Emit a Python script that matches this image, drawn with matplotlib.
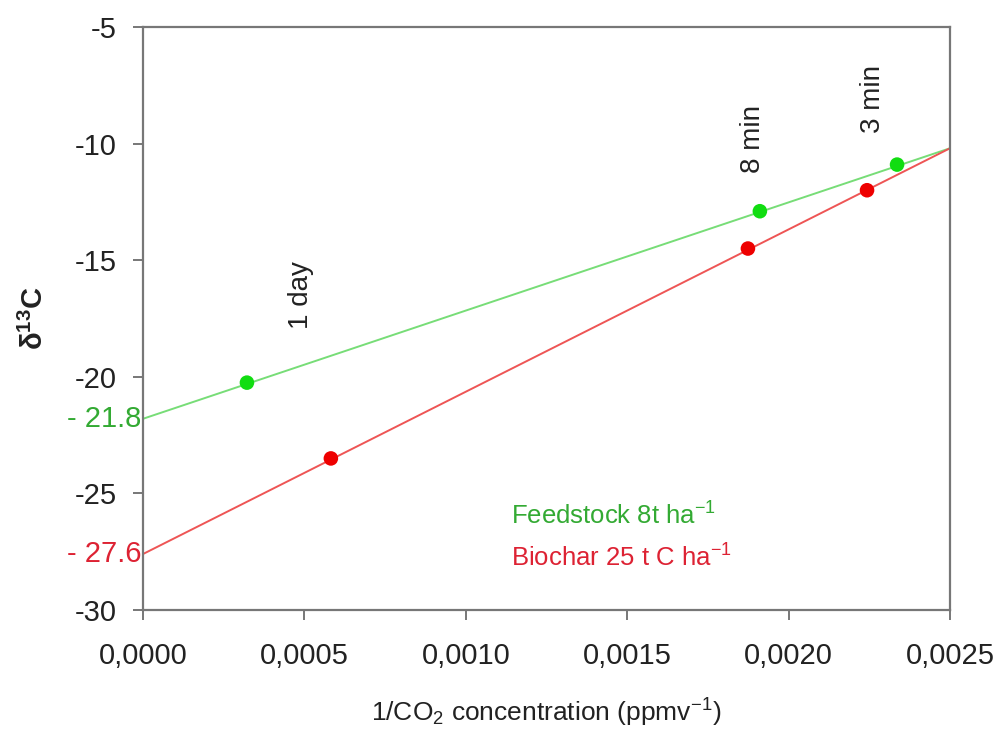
import numpy as np
import matplotlib
matplotlib.use('Agg')
import matplotlib.pyplot as plt
from matplotlib.ticker import FuncFormatter

plt.rcParams['font.family'] = ['Liberation Sans', 'DejaVu Sans']
plt.rcParams['mathtext.fontset'] = 'custom'
plt.rcParams['mathtext.rm'] = 'Liberation Sans'
plt.rcParams['mathtext.it'] = 'Liberation Sans:italic'
plt.rcParams['mathtext.bf'] = 'Liberation Sans:bold'

# --- data ---
inv_co2_feed = [0.000322, 0.001911, 0.002336]
d13c_feed = [-20.25, -12.9, -10.9]
inv_co2_bio = [0.000582, 0.001874, 0.002243]
d13c_bio = [-23.5, -14.5, -12.0]

# fitted mixing lines (intercept at 1/CO2 = 0, value at x = 0.0025)
intercept_feed, end_feed = -21.8, -10.2
intercept_bio, end_bio = -27.6, -10.2
line_x = [0.0, 0.0025]

time_labels = ['1 day', '8 min', '3 min']
time_label_pos = [(0.00049, -16.5), (0.00189, -9.8), (0.00226, -8.1)]

green_pt, green_ln, green_tx = '#11dd11', '#77dd77', '#33aa33'
red_pt, red_ln, red_tx = '#ee0000', '#ee5555', '#dd2233'
axis_col = '#777777'

fig = plt.figure(figsize=(10.02, 7.31), dpi=100)
ax = fig.add_axes([143 / 1002, 1 - 610 / 731, 807 / 1002, 583 / 731])

ax.plot(line_x, [intercept_feed, end_feed], color=green_ln, lw=1.4, zorder=2)
ax.plot(line_x, [intercept_bio, end_bio], color=red_ln, lw=1.4, zorder=2)
ax.scatter(inv_co2_feed, d13c_feed, s=110, color=green_pt, zorder=3, edgecolor='none')
ax.scatter(inv_co2_bio, d13c_bio, s=110, color=red_pt, zorder=3, edgecolor='none')

for txt, (tx, ty) in zip(time_labels, time_label_pos):
    ax.text(tx, ty, txt, rotation=90, ha='center', va='center', fontsize=20, color='#222222')

# intercept values written beside the y axis
ax.text(-0.000005, intercept_feed, '- 21.8', color=green_tx, fontsize=21,
        ha='right', va='center', clip_on=False)
ax.text(-0.000005, intercept_bio, '- 27.6', color=red_tx, fontsize=21,
        ha='right', va='center', clip_on=False)

ax.text(0.00114, -25.95, 'Feedstock 8t ha$^{-1}$', color=green_tx, fontsize=18.5, va='center')
ax.text(0.00114, -27.75, 'Biochar 25 t C ha$^{-1}$', color=red_tx, fontsize=18.5, va='center')

ax.set_xlim(0, 0.0025)
ax.set_ylim(-30, -5)
ax.set_xticks(np.arange(0, 0.00251, 0.0005))
ax.set_yticks(np.arange(-30, -4, 5))
ax.xaxis.set_major_formatter(FuncFormatter(lambda v, _: f'{v:.4f}'.replace('.', ',')))
ax.yaxis.set_major_formatter(FuncFormatter(lambda v, _: f'{v:.0f}'))

for sp in ax.spines.values():
    sp.set_color(axis_col)
    sp.set_linewidth(1.6)
ax.tick_params(axis='both', direction='out', length=7, width=1.4, color=axis_col,
               labelsize=21, labelcolor='#222222')
ax.tick_params(axis='x', pad=16)
ax.tick_params(axis='y', pad=12)

ax.set_xlabel('1/CO$_2$ concentration (ppmv$^{-1}$)', fontsize=19, color='#222222', labelpad=19)
ax.set_ylabel(r'$\mathbf{\delta^{13}C}$', fontsize=21, color='#222222', labelpad=18)

fig.savefig('out.png', dpi=100)
